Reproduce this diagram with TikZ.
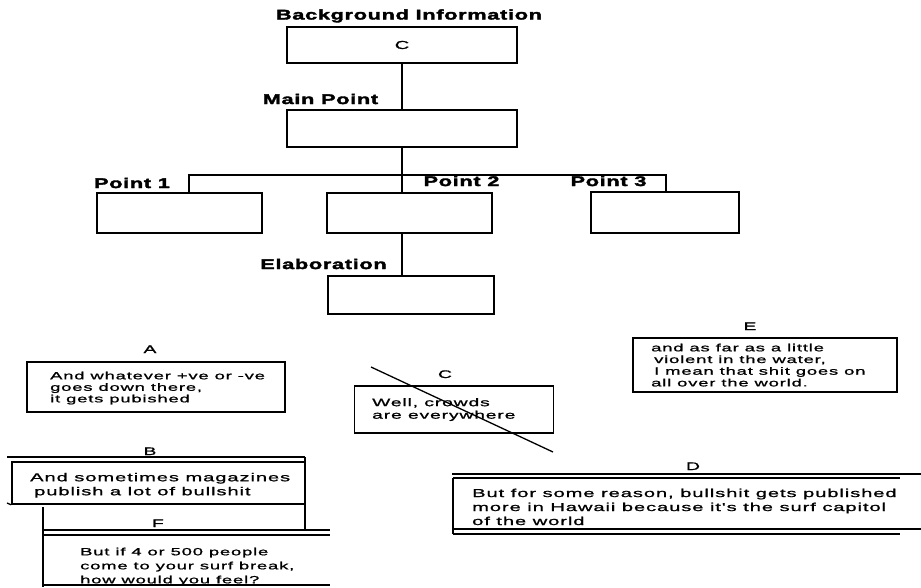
\documentclass[tikz,border=0pt]{standalone}
\usepackage{fontspec}
\usepackage{tikz}
\usetikzlibrary{calc}

\newfontfamily\headfont[FakeStretch=1.55,LetterSpace=5,FakeBold=2.5]{Liberation Sans Bold}
\newfontfamily\bodyfont[FakeStretch=1.75,LetterSpace=8,FakeBold=1.2]{Liberation Sans}

\tikzset{
  box/.style={draw, line width=1.6pt, inner sep=0pt},
  wire/.style={line width=1.3pt},
  rule/.style={line width=2.2pt},
  head/.style={font=\headfont\fontsize{14}{16}\selectfont, anchor=base, inner sep=0pt},
  tag/.style={font=\bodyfont\fontsize{11}{13}\selectfont, anchor=base, inner sep=0pt},
  quote/.style={align=left, anchor=north west, inner sep=0pt},
}

\begin{document}
\begin{tikzpicture}[x=1pt, y=-1pt]

    \useasboundingbox (0,0) rectangle (921,587);

    % Headings of the outline
    \node[head] (bghead) at (409,19.5) {Background Information};
    \node[head] (mainhead) at (320.5,104) {Main Point};
    \node[head] (p1head) at (132,188) {Point 1};
    \node[head] (p2head) at (461.5,186) {Point 2};
    \node[head] (p3head) at (608.5,186) {Point 3};
    \node[head] (elabhead) at (323.5,269) {Elaboration};

    % Outline boxes
    \node[box, minimum width=230pt, minimum height=36pt, font=\bodyfont\fontsize{11.5}{13}\selectfont] (bginfo) at (402,45) {C};
    \node[box, minimum width=230pt, minimum height=37pt] (mainpt) at (402,128.5) {};
    \node[box, minimum width=165pt, minimum height=40pt] (pt1) at (179.5,213) {};
    \node[box, minimum width=165pt, minimum height=40pt] (pt2) at (409.5,213) {};
    \node[box, minimum width=148pt, minimum height=41pt] (pt3) at (665,212.5) {};
    \node[box, minimum width=166pt, minimum height=38pt] (elab) at (411,295) {};

    % Connectors
    \coordinate (barL) at (189,175);
    \coordinate (barR) at (666,175);
    \draw[wire] (bginfo) -- (mainpt);
    \draw[wire] (mainpt.south) -- (mainpt.south |- pt2.north);
    \draw[wire] (barL |- pt1.north) -- (barL) -- (barR) -- (barR |- pt3.north);
    \draw[wire] (mainpt.south |- pt2.south) -- (mainpt.south |- elab.north);

    % Letters over the quotes
    \node[tag] (tagA) at (150,353) {A};
    \node[tag] (tagB) at (150,455) {B};
    \node[tag] (tagC) at (445,378) {C};
    \node[tag] (tagD) at (693,470) {D};
    \node[tag] (tagE) at (750,330) {E};
    \node[tag] (tagF) at (158,527) {F};

    % Quote A
    \node[box, minimum width=258pt, minimum height=50pt] (boxA) at (156,387) {};
    \node[quote, font=\bodyfont\fontsize{10.5}{11.5}\selectfont] (txtA) at (50,371.5)
        {And whatever +ve or -ve\\goes down there,\\it gets pubished};

    % Quote C (struck out)
    \node[box, minimum width=199pt, minimum height=47pt] (boxC) at (454,409.5) {};
    \node[quote, font=\bodyfont\fontsize{11}{12.5}\selectfont] (txtC) at (372,398)
        {Well, crowds\\are everywhere};
    \coordinate (strikeA) at (371,367);
    \coordinate (strikeB) at (553,452);
    \draw[wire] (strikeA) -- (strikeB);

    % Quote E
    \node[box, minimum width=264pt, minimum height=54pt] (boxE) at (765,365) {};
    \node[quote, font=\bodyfont\fontsize{10.5}{11.7}\selectfont] (txtE) at (651,343.5)
        {and as far as a little\\\hspace{3pt}violent in the water,\\\hspace{3pt}I mean that shit goes on\\all over the world.};

    % Quote B
    \coordinate (bTopL) at (7,457);
    \coordinate (bTopR) at (305,457);
    \coordinate (bLowL) at (7,503);
    \coordinate (bDown) at (305,530);
    \draw[rule] (bTopL) -- (bTopR);
    \node[box, minimum width=293pt, minimum height=42pt] (boxB) at (158.5,483) {};
    \draw[wire] (bLowL) -- (boxB.south west);
    \draw[wire] (bTopR) -- (bDown);
    \node[quote, font=\bodyfont\fontsize{11.5}{14}\selectfont] (txtB) at (30,472.7)
        {And sometimes magazines\\\hspace{4pt}publish a lot of bullshit};

    % Quote F (runs off the page)
    \coordinate (fTopL) at (43,507);
    \coordinate (fBotL) at (43,587);
    \coordinate (fRul1) at (43,530);
    \coordinate (fRul2) at (43,535);
    \coordinate (fBase) at (43,585);
    \node[quote, font=\bodyfont\fontsize{10.5}{14}\selectfont] (txtF) at (80,547.5)
        {But if 4 or 500 people\\come to your surf break,\\how would you feel?};
    \fill[white] (43,586) rectangle (340,590);
    \draw[wire] (fTopL) -- (fBotL);
    \draw[rule] (fRul1) -- ++(287,0);
    \draw[wire] (fRul2) -- ++(287,0);
    \draw[wire] (fBase) -- ++(287,0);

    % Quote D (runs off the page)
    \coordinate (dTop) at (452,474);
    \coordinate (dIn) at (453,478);
    \coordinate (dLow) at (452,529);
    \coordinate (dBot) at (453,534);
    \draw[rule] (dTop) -- (921,474);
    \draw[wire] (dIn) -- (900,478);
    \draw[wire] (dIn) -- (dBot);
    \node[quote, font=\bodyfont\fontsize{11.5}{14}\selectfont] (txtD) at (472,488.5)
        {But for some reason, bullshit gets published\\more in Hawaii because it's the surf capitol\\of the world};
    \draw[rule] (dLow) -- (921,529);
    \draw[wire] (dBot) -- (900,534);

\end{tikzpicture}
\end{document}
